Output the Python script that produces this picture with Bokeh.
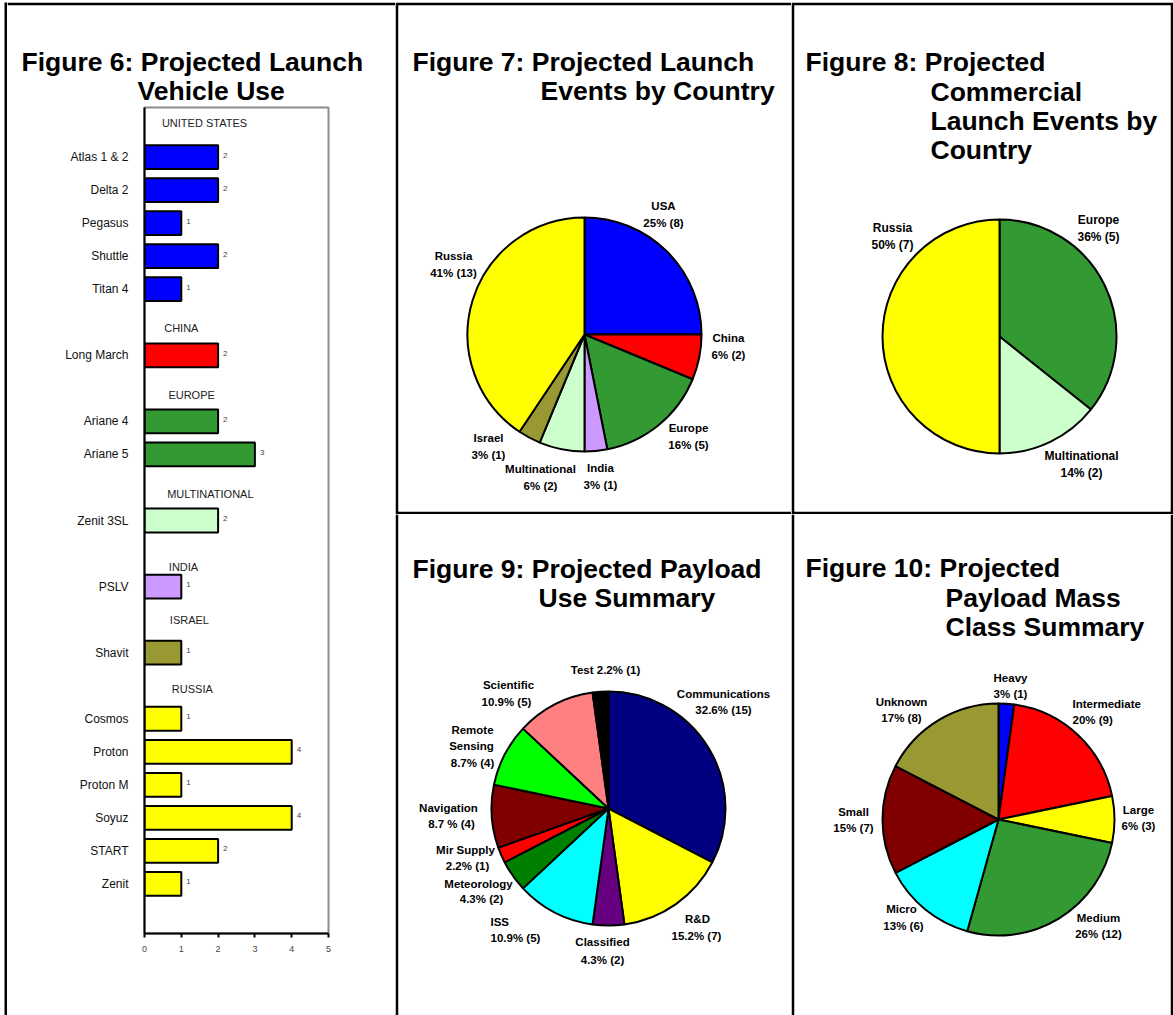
import numpy as np
from bokeh.plotting import figure
from bokeh.models import Range1d, FixedTicker, Spacer
from bokeh.layouts import row, column
from bokeh.embed import file_html
from bokeh.resources import INLINE
from bokeh.core.properties import value

FONT = "Liberation Sans"

# ---------------- Figure 6 data ----------------
country_groups = ["UNITED STATES", "CHINA", "EUROPE", "MULTINATIONAL", "INDIA", "ISRAEL", "RUSSIA"]
group_colors = ["#0000FF", "#FF0000", "#339933", "#CCFFCC", "#CC99FF", "#999933", "#FFFF00"]
vehicles_by_group = [
    ["Atlas 1 & 2", "Delta 2", "Pegasus", "Shuttle", "Titan 4"],
    ["Long March"],
    ["Ariane 4", "Ariane 5"],
    ["Zenit 3SL"],
    ["PSLV"],
    ["Shavit"],
    ["Cosmos", "Proton", "Proton M", "Soyuz", "START", "Zenit"],
]
counts_by_group = [
    [2, 2, 1, 2, 1],
    [2],
    [2, 3],
    [2],
    [1],
    [1],
    [1, 4, 1, 4, 2, 1],
]
x_ticks6 = [0, 1, 2, 3, 4, 5]

# ---------------- Figure 7 data ----------------
countries7 = ["USA", "China", "Europe", "India", "Multinational", "Israel", "Russia"]
events7 = [8, 2, 5, 1, 2, 1, 13]
pct7 = ["25%", "6%", "16%", "3%", "6%", "3%", "41%"]
colors7 = ["#0000FF", "#FF0000", "#339933", "#CC99FF", "#CCFFCC", "#999933", "#FFFF00"]

# ---------------- Figure 8 data ----------------
countries8 = ["Europe", "Multinational", "Russia"]
events8 = [5, 2, 7]
pct8 = ["36%", "14%", "50%"]
colors8 = ["#339933", "#CCFFCC", "#FFFF00"]

# ---------------- Figure 9 data ----------------
uses9 = ["Communications", "R&D", "Classified", "ISS", "Meteorology", "Mir Supply",
         "Navigation", "Remote Sensing", "Scientific", "Test"]
payloads9 = [15, 7, 2, 5, 2, 1, 4, 4, 5, 1]
pct9 = ["32.6%", "15.2%", "4.3%", "10.9%", "4.3%", "2.2%", "8.7 %", "8.7%", "10.9%", "2.2%"]
colors9 = ["#000080", "#FFFF00", "#660080", "#00FFFF", "#008000", "#FF0000",
           "#800000", "#00FF00", "#FF8080", "#000000"]

# ---------------- Figure 10 data ----------------
classes10 = ["Heavy", "Intermediate", "Large", "Medium", "Micro", "Small", "Unknown"]
payloads10 = [1, 9, 3, 12, 6, 7, 8]
pct10 = ["3%", "20%", "6%", "26%", "13%", "15%", "17%"]
colors10 = ["#0000FF", "#FF0000", "#FFFF00", "#339933", "#00FFFF", "#800000", "#999933"]


# ---------------- helpers ----------------
def canvas(w, h, left=0, right=0, top=0, bottom=0, fill="black"):
    fw, fh = w - left - right, h - top - bottom
    p = figure(width=w, height=h, x_range=Range1d(0, fw), y_range=Range1d(0, fh),
               min_border_left=left, min_border_right=right,
               min_border_top=top, min_border_bottom=bottom,
               toolbar_location=None, output_backend="svg",
               x_axis_location=None, y_axis_location=None,
               background_fill_color="white", border_fill_color=fill,
               outline_line_color=None)
    p.frame_align = False
    p.grid.visible = False
    return p, fh


def put(p, ox, oy, fh, items, size, bold=True, baseline="middle", color="black"):
    # items: (text, page_x, page_y, align)
    for align in ("left", "center", "right"):
        sel = [it for it in items if it[3] == align]
        if not sel:
            continue
        p.text(x=[it[1] - ox for it in sel], y=[fh - (it[2] - oy) for it in sel],
               text=[it[0] for it in sel], text_align=align, text_baseline=baseline,
               text_font=value(FONT), text_font_size=value(size),
               text_font_style="bold" if bold else "normal", text_color=color)


def pie(p, ox, oy, fh, cx, cy, r, vals, colors):
    v = np.array(vals, dtype=float)
    cum = np.cumsum(v) / v.sum()
    start = np.concatenate([[0.0], cum[:-1]])
    sa = np.pi / 2 - 2 * np.pi * start
    ea = np.pi / 2 - 2 * np.pi * cum
    p.wedge(x=cx - ox, y=fh - (cy - oy), radius=r, start_angle=list(sa), end_angle=list(ea),
            direction="clock", fill_color=colors, line_color="black", line_width=2)


TITLE = "26.5px"
LAB = "11.5px"

# ---------------- Figure 6: title panel (top border from the black border fill) ----------------
t6, t6h = canvas(388, 104, top=3)
O6 = (7, 5)
put(t6, *O6, t6h, [("Figure 6: Projected Launch", 21, 61, "left"),
                   ("Vehicle Use", 137, 90, "left")], TITLE, baseline="alphabetic")

# ---------------- Figure 6: bar chart ----------------
slots, names, vals, cols = [], [], [], []
header_slots = []
s = 0
for g, vs, cs, col in zip(country_groups, vehicles_by_group, counts_by_group, group_colors):
    header_slots.append(s)
    s += 1
    for nm, c in zip(vs, cs):
        slots.append(s)
        names.append(nm)
        vals.append(c)
        cols.append(col)
        s += 1
n_slots = s + 1

bar = figure(width=388, height=909, x_range=Range1d(0, 5), y_range=Range1d(n_slots, 0),
             min_border_left=137, min_border_right=67, min_border_top=1, min_border_bottom=82,
             toolbar_location=None, output_backend="svg",
             background_fill_color="white", border_fill_color="white",
             outline_line_color="#8c8c8c", outline_line_width=2)
bar.frame_align = False
bar.grid.visible = False
yc = [sl + 0.5 for sl in slots]
bar.hbar(y=yc, left=0, right=vals, height=0.72, fill_color=cols,
         line_color="black", line_width=2)
bar.text(x=vals, y=yc, text=[str(v) for v in vals], x_offset=5, y_offset=-2,
         text_align="left", text_baseline="middle", text_font=value(FONT),
         text_font_size=value("8px"), text_color="#444444")
header_x = [1.63, 1.0, 1.28, 1.79, 1.06, 1.22, 1.30]
header_dy = [-0.02, 0.16, 0.19, 0.21, 0.42, 0.0, 0.11]
bar.text(x=header_x, y=[hs + 0.5 + d for hs, d in zip(header_slots, header_dy)],
         text=country_groups, text_align="center", text_baseline="middle",
         text_font=value(FONT), text_font_size=value("11px"), text_color="#222222")

bar.xaxis.ticker = FixedTicker(ticks=x_ticks6)
bar.xaxis.axis_line_width = 2
bar.xaxis.axis_line_color = "black"
bar.xaxis.major_tick_line_color = "black"
bar.xaxis.major_tick_line_width = 2
bar.xaxis.major_tick_out = 4
bar.xaxis.major_tick_in = 0
bar.xaxis.minor_tick_line_color = None
bar.xaxis.major_label_text_font = FONT
bar.xaxis.major_label_text_font_size = "9px"
bar.xaxis.major_label_text_color = "#444444"
bar.xaxis.major_label_standoff = 8

bar.yaxis.ticker = FixedTicker(ticks=yc)
bar.yaxis.major_label_overrides = {y: nm for y, nm in zip(yc, names)}
bar.yaxis.axis_line_width = 2
bar.yaxis.axis_line_color = "black"
bar.yaxis.major_tick_line_color = None
bar.yaxis.minor_tick_line_color = None
bar.yaxis.major_label_text_font = FONT
bar.yaxis.major_label_text_font_size = "12px"
bar.yaxis.major_label_text_color = "#111111"
bar.yaxis.major_label_standoff = 10

# ---------------- Figure 7 ----------------
f7, f7h = canvas(396, 512, left=3, top=3, bottom=3)
O7 = (398, 5)
pie(f7, *O7, f7h, 584, 334, 117, events7, colors7)
pos7 = [(663, 205), (728, 337), (688, 427), (600, 467), (540, 468), (488, 437), (453, 255)]
items = [("Figure 7: Projected Launch", 412, 61, "left"), ("Events by Country", 540, 90, "left")]
put(f7, *O7, f7h, items, TITLE, baseline="alphabetic")
items = []
for nm, pc, ev, (x, y) in zip(countries7, pct7, events7, pos7):
    items.append((nm, x, y, "center"))
    items.append((f"{pc} ({ev})", x, y + 17, "center"))
put(f7, *O7, f7h, items, LAB)

# ---------------- Figure 8 ----------------
f8, f8h = canvas(382, 512, left=3, right=3, top=3, bottom=3)
O8 = (794, 5)
pie(f8, *O8, f8h, 999, 336, 117, events8, colors8)
pos8 = [(1098, 219), (1081, 455), (892, 227)]
items = [("Figure 8: Projected", 805, 61, "left"), ("Commercial", 930, 91, "left"),
         ("Launch Events by", 930, 120, "left"), ("Country", 930, 149, "left")]
put(f8, *O8, f8h, items, TITLE, baseline="alphabetic")
items = []
for nm, pc, ev, (x, y) in zip(countries8, pct8, events8, pos8):
    items.append((nm, x, y, "center"))
    items.append((f"{pc} ({ev})", x, y + 17, "center"))
put(f8, *O8, f8h, items, "12px")

# ---------------- Figure 9 ----------------
f9, f9h = canvas(396, 501, left=3)
O9 = (398, 514)
pie(f9, *O9, f9h, 608, 808, 117, payloads9, colors9)
items = [("Figure 9: Projected Payload", 412, 568, "left"), ("Use Summary", 538, 597, "left")]
put(f9, *O9, f9h, items, TITLE, baseline="alphabetic")
lab9 = [f"{u}" for u in uses9]
items = [
    (lab9[0], 723, 693, "center"), (f"{pct9[0]} ({payloads9[0]})", 723, 709, "center"),
    (lab9[1], 697, 918, "center"), (f"{pct9[1]} ({payloads9[1]})", 696, 935, "center"),
    (lab9[2], 602, 941, "center"), (f"{pct9[2]} ({payloads9[2]})", 602, 959, "center"),
    (lab9[3], 490, 921, "left"), (f"{pct9[3]} ({payloads9[3]})", 490, 937, "left"),
    (lab9[4], 478, 883, "center"), (f"{pct9[4]} ({payloads9[4]})", 481, 898, "center"),
    (lab9[5], 465, 849, "center"), (f"{pct9[5]} ({payloads9[5]})", 467, 865, "center"),
    (lab9[6], 448, 807, "center"), (f"{pct9[6]} ({payloads9[6]})", 451, 823, "center"),
    (lab9[7].split(" ")[0], 472, 729, "center"), (lab9[7].split(" ")[1], 471, 745, "center"),
    (f"{pct9[7]} ({payloads9[7]})", 472, 762, "center"),
    (lab9[8], 508, 684, "center"), (f"{pct9[8]} ({payloads9[8]})", 506, 701, "center"),
    (f"{lab9[9]} {pct9[9]} ({payloads9[9]})", 605, 669, "center"),
]
put(f9, *O9, f9h, items, LAB)

# ---------------- Figure 10 ----------------
f10, f10h = canvas(382, 501, left=3, right=3)
O10 = (794, 514)
pie(f10, *O10, f10h, 998, 819, 116, payloads10, colors10)
items = [("Figure 10: Projected", 805, 567, "left"), ("Payload Mass", 945, 597, "left"),
         ("Class Summary", 945, 626, "left")]
put(f10, *O10, f10h, items, TITLE, baseline="alphabetic")
pos10 = [((1010, 677, "center"), (1010, 693, "center")),
         ((1072, 703, "left"), (1072, 719, "left")),
         ((1138, 809, "center"), (1138, 825, "center")),
         ((1098, 917, "center"), (1098, 933, "center")),
         ((901, 908, "center"), (903, 925, "center")),
         ((853, 811, "center"), (853, 827, "center")),
         ((901, 701, "center"), (901, 717, "center"))]
items = []
for nm, pc, pv, (a, b) in zip(classes10, pct10, payloads10, pos10):
    items.append((nm, a[0], a[1], a[2]))
    items.append((f"{pc} ({pv})", b[0], b[1], b[2]))
put(f10, *O10, f10h, items, LAB)

# ---------------- left black edge ----------------
edge, _ = canvas(3, 1013, fill="black")
edge.background_fill_color = "black"

# ---------------- layout ----------------
left_strip = column(Spacer(width=3, height=2), edge)
left_col = column(Spacer(width=388, height=2), t6, bar)
right_col = column(Spacer(width=778, height=2), row(f7, f8), row(f9, f10))
layout = row(Spacer(width=4, height=1015), left_strip, left_col, right_col)

open("out.html", "w").write(file_html(layout, INLINE))
